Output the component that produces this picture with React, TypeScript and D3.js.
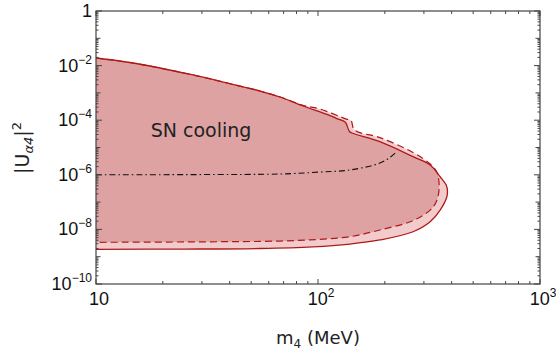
import React from "react";
import * as d3 from "d3";

// Solid curve region (m4 in MeV, |U|^2), traced clockwise from left-top
const solidRegion: [number, number][] = [
  [10, 1.9e-2], [14.2, 1.3e-2], [27.4, 4.53e-3], [38.9, 2.31e-3], [54.8, 1.17e-3],
  [67.5, 7.08e-4], [85.5, 3.31e-4], [109.9, 1.62e-4], [121.5, 1.15e-4], [132.4, 8.6e-5],
  [134.2, 7.3e-5], [138.6, 3.85e-5], [142.2, 3.4e-5], [190, 1.63e-5], [268, 4.6e-6],
  [320, 2.3e-6], [355, 8.5e-7], [378, 4.2e-7], [383, 2.5e-7], [380, 1.5e-7],
  [355, 5.1e-8], [320, 1.9e-8], [268, 8.2e-9], [190, 4.1e-9], [139, 2.9e-9],
  [94.8, 2.3e-9], [54.8, 2.0e-9], [25, 1.9e-9], [10, 1.87e-9],
];

// Dashed curve region
const dashedRegion: [number, number][] = [
  [10, 1.9e-2], [14.2, 1.3e-2], [27.4, 4.53e-3], [38.9, 2.31e-3], [54.8, 1.17e-3],
  [67.5, 7.08e-4], [85.5, 3.5e-4], [102, 2.57e-4], [134.2, 1.1e-4], [140.8, 9.75e-5],
  [146, 4.38e-5], [190, 2.3e-5], [268, 6.56e-6], [320, 2.49e-6], [343, 1.27e-6],
  [350, 6.45e-7], [351, 2.8e-7], [347, 1.6e-7], [339, 9.3e-8], [320, 5.1e-8],
  [268, 2.1e-8], [190, 9.5e-9], [139, 5.4e-9], [100, 4.3e-9], [67.5, 3.75e-9],
  [30, 3.5e-9], [10, 3.37e-9],
];

// Dash-dot black line
const dashDotLine: [number, number][] = [
  [10, 1.0e-6], [30, 1.02e-6], [67.5, 1.07e-6], [100, 1.25e-6], [139, 1.5e-6],
  [190, 2.7e-6], [213, 4.6e-6], [226, 7.0e-6],
];

const xMajor = [10, 100, 1000];
const xMajorLabels = [["10", ""], ["10", "2"], ["10", "3"]];
const yMajor = [1, 1e-2, 1e-4, 1e-6, 1e-8, 1e-10];
const yMajorLabels = [["1", ""], ["10", "\u22122"], ["10", "\u22124"], ["10", "\u22126"], ["10", "\u22128"], ["10", "\u221210"]];

const W = 556, H = 355;
const L = 96, R = 540, T = 11, B = 284;

export default function App() {
  const x = d3.scaleLog().domain([10, 1000]).range([L, R]);
  const y = d3.scaleLog().domain([1e-10, 1]).range([B, T]);

  const curve = d3.curveCatmullRom.alpha(0.5);
  const line = d3.line<[number, number]>().x(d => x(d[0])).y(d => y(d[1])).curve(curve);
  const solidPath = line(solidRegion)!;
  const dashedPath = line(dashedRegion)!;
  const dotPath = line(dashDotLine)!;

  const axisColor = "#444";
  const xTicks: { v: number; len: number }[] = [];
  for (let d = 10; d < 1000; d *= 10) {
    for (let k = 1; k < 10; k++) xTicks.push({ v: d * k, len: k === 1 ? 5 : 3 });
  }
  xTicks.push({ v: 1000, len: 5 });
  const yTicks: { v: number; len: number }[] = [];
  for (let e = -10; e < 0; e++) {
    for (let k = 1; k < 10; k++) {
      const len = k === 1 ? (e % 2 === 0 ? 6 : 4.5) : 2.5;
      yTicks.push({ v: k * Math.pow(10, e), len });
    }
  }
  yTicks.push({ v: 1, len: 6 });

  const red = "#b01818";
  const font = "'Liberation Sans', Arial, sans-serif";
  const font2 = "'DejaVu Sans', sans-serif";

  return (
    <svg width={W} height={H} style={{ position: "absolute", left: 0, top: 0, background: "#fff" }}>
      <defs>
        <clipPath id="plot"><rect x={L} y={T} width={R - L} height={B - T} /></clipPath>
        <clipPath id="solidClip"><path d={solidPath + "Z"} /></clipPath>
      </defs>
      <g clipPath="url(#plot)">
        <path d={solidPath + "Z"} fill="#f2cccd" />
        <path d={dashedPath + "Z"} fill="#f2cccd" />
        <path d={dashedPath + "Z"} fill="#dea2a3" clipPath="url(#solidClip)" />
        <path d={solidPath} fill="none" stroke={red} strokeWidth={1.3} />
        <path d={dashedPath} fill="none" stroke={red} strokeWidth={1.2} strokeDasharray="7,4" />
        <path d={dotPath} fill="none" stroke="#111" strokeWidth={1.1} strokeDasharray="6,3,1.5,3" />
      </g>
      <text x={201} y={137} fontFamily={font2} fontSize={19} textAnchor="middle" fill="#222">SN cooling</text>
      {/* frame */}
      <rect x={L} y={T} width={R - L} height={B - T} fill="none" stroke={axisColor} strokeWidth={1.2} />
      {xTicks.map((t, i) => (
        <g key={"xt" + i} stroke={axisColor} strokeWidth={1}>
          <line x1={x(t.v)} x2={x(t.v)} y1={B} y2={B - t.len} />
          <line x1={x(t.v)} x2={x(t.v)} y1={T} y2={T + t.len} />
        </g>
      ))}
      {yTicks.map((t, i) => (
        <g key={"yt" + i} stroke={axisColor} strokeWidth={1}>
          <line x1={L} x2={L + t.len} y1={y(t.v)} y2={y(t.v)} />
          <line x1={R} x2={R - t.len} y1={y(t.v)} y2={y(t.v)} />
        </g>
      ))}
      {xMajor.map((v, i) => (
        <text key={"xl" + i} x={x(v) + 3} y={305} fontFamily={font} fontSize={18} textAnchor="middle" fill="#111">
          {xMajorLabels[i][0]}
          {xMajorLabels[i][1] && <tspan fontSize={12} dy={-8}>{xMajorLabels[i][1]}</tspan>}
        </text>
      ))}
      {yMajor.map((v, i) => (
        <text key={"yl" + i} x={92} y={y(v) + 6} fontFamily={font} fontSize={18} textAnchor="end" fill="#111">
          {yMajorLabels[i][0]}
          {yMajorLabels[i][1] && <tspan fontSize={12} dy={-8}>{yMajorLabels[i][1]}</tspan>}
        </text>
      ))}
      <text x={318} y={344} fontFamily={font2} fontSize={18} textAnchor="middle" fill="#222">
        m<tspan fontSize={12} dy={4}>4</tspan><tspan dy={-4}>{" (MeV)"}</tspan>
      </text>
      <text transform="translate(29,148) rotate(-90)" fontFamily={font2} fontSize={19} textAnchor="middle" fill="#222">
        |U<tspan fontSize={13} dy={4} fontStyle="italic">{"\u03b14"}</tspan><tspan dy={-4}>|</tspan><tspan fontSize={13} dy={-8}>2</tspan>
      </text>
    </svg>
  );
}
